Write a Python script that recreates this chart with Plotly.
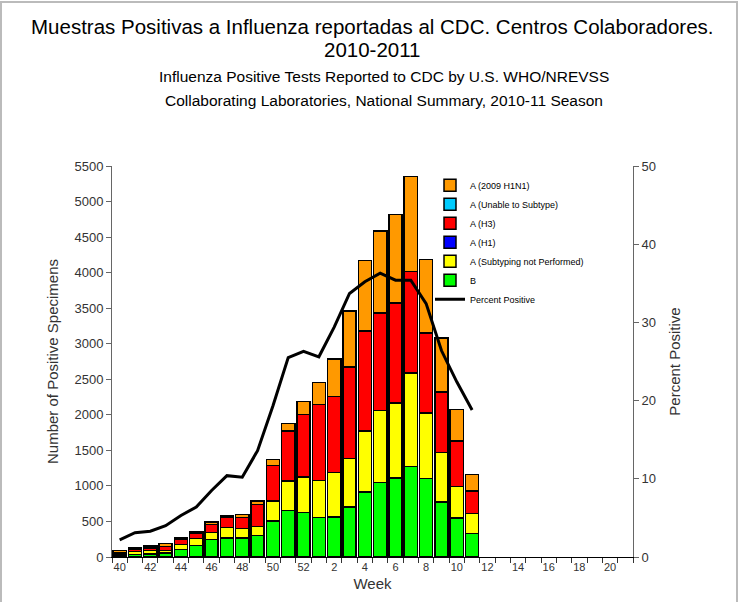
import plotly.graph_objects as go

weeks = [40, 41, 42, 43, 44, 45, 46, 47, 48, 49, 50, 51, 52,
         1, 2, 3, 4, 5, 6, 7, 8, 9, 10, 11, 12, 13, 14, 15, 16, 17, 18, 19, 20, 21]

b_vals = [25, 35, 45, 57, 108, 165, 245, 267, 267, 305, 505, 652, 624,
          554, 563, 704, 915, 1046, 1111, 1276, 1103, 774, 549, 329]
np_vals = [20, 45, 45, 37, 70, 98, 98, 146, 133, 127, 283, 417, 501,
           525, 624, 682, 856, 1017, 1055, 1312, 923, 694, 446, 281]
h1_vals = [0] * 24
h3_vals = [20, 25, 40, 56, 70, 75, 112, 150, 154, 305, 502, 704, 882,
           1069, 1073, 1287, 1408, 1369, 1407, 1431, 1125, 853, 637, 319]
unable_vals = [0] * 24
h1n1_vals = [29, 22, 25, 38, 19, 14, 37, 14, 46, 51, 80, 107, 179,
             305, 525, 787, 994, 1154, 1243, 1336, 1032, 760, 441, 234]
pct_pos = [2.2, 3.1, 3.3, 4.0, 5.3, 6.4, 8.5, 10.4, 10.2, 13.6, 19.3, 25.5, 26.3,
           25.6, 29.4, 33.7, 35.2, 36.3, 35.4, 35.4, 32.4, 26.4, 22.4, 18.8]

title_lines = ["Muestras Positivas a Influenza reportadas al CDC. Centros Colaboradores.",
               "2010-2011"]
subtitle_lines = ["Influenza Positive Tests Reported to CDC by U.S. WHO/NREVSS",
                  "Collaborating Laboratories, National Summary, 2010-11 Season"]

idx = list(range(len(weeks)))
data_idx = idx[:len(b_vals)]

series = [
    ("B", b_vals, "#00FF00", 6),
    ("A (Subtyping not Performed)", np_vals, "#FFFF00", 5),
    ("A (H1)", h1_vals, "#0000FF", 4),
    ("A (H3)", h3_vals, "#FF0000", 3),
    ("A (Unable to Subtype)", unable_vals, "#00CCFF", 2),
    ("A (2009 H1N1)", h1n1_vals, "#FF9900", 1),
]

fig = go.Figure()
for name, vals, color, rank in series:
    fig.add_trace(go.Bar(
        x=data_idx, y=vals, name=name, legendrank=rank,
        marker=dict(color=color, line=dict(color="black", width=1.5)),
    ))

fig.add_trace(go.Scatter(
    x=data_idx, y=pct_pos, name="Percent Positive", yaxis="y2", legendrank=7,
    mode="lines", line=dict(color="black", width=3),
))

font_family = "Liberation Sans, Arial, sans-serif"
PL, PT, PW, PH = 112, 166, 521, 391  # plot area in pixels


def ann(text, cx, cy, size):
    return dict(text=text, xref="paper", yref="paper",
                x=(cx - PL) / PW, y=1 + (PT - cy) / PH,
                xanchor="center", yanchor="middle", showarrow=False,
                font=dict(size=size, color="#000000", family=font_family))


fig.update_layout(
    width=744, height=602,
    barmode="stack", bargap=0.14,
    plot_bgcolor="white", paper_bgcolor="white",
    margin=dict(l=PL, r=744 - PL - PW, t=PT, b=602 - PT - PH),
    font=dict(family=font_family, color="#333333"),
    showlegend=True,
    legend=dict(
        x=(430 - PL) / PW, y=0.988, xanchor="left", yanchor="top",
        traceorder="normal", font=dict(size=9, color="#000000"),
        bgcolor="rgba(0,0,0,0)", itemwidth=30,
    ),
    xaxis=dict(
        range=[-0.5, len(weeks) - 0.5],
        tickmode="array",
        tickvals=idx[::2], ticktext=[str(w) for w in weeks[::2]],
        ticks="", tickfont=dict(size=11, color="#333333"),
        showline=True, linecolor="#000000", linewidth=1,
        showgrid=False, zeroline=False,
        minor=dict(tickmode="linear", tick0=-0.5, dtick=1, ticks="outside",
                   ticklen=5, tickcolor="#333333", showgrid=False),
        title=dict(text="Week", font=dict(size=15, color="#333333"), standoff=6),
    ),
    yaxis=dict(
        range=[0, 5500], dtick=500, ticks="outside", ticklen=5,
        tickcolor="#666666", showline=True, linecolor="#666666", linewidth=1,
        showgrid=False, zeroline=False,
        tickfont=dict(size=13, color="#333333"),
        title=dict(text="Number of Positive Specimens",
                   font=dict(size=15, color="#333333"), standoff=12),
    ),
    yaxis2=dict(
        range=[0, 50], dtick=10, overlaying="y", side="right",
        ticks="outside", ticklen=5, tickcolor="#666666",
        showline=True, linecolor="#666666", linewidth=1,
        showgrid=False, zeroline=False,
        tickfont=dict(size=13, color="#333333"),
        title=dict(text="Percent Positive", font=dict(size=15, color="#333333"),
                   standoff=14),
    ),
    annotations=[
        ann(title_lines[0], 372, 26, 20.5),
        ann(title_lines[1], 372, 49, 20.5),
        ann(subtitle_lines[0], 384, 77, 15.5),
        ann(subtitle_lines[1], 384, 101, 15.5),
    ],
    shapes=[
        dict(type="rect", xref="paper", yref="paper",
             x0=(1 - PL) / PW, x1=(737 - PL) / PW,
             y0=(PT + PH - 603) / PH, y1=1 + (PT - 2) / PH,
             line=dict(color="#BBBBBB", width=2), fillcolor="rgba(0,0,0,0)", layer="below"),
    ],
)

fig.write_html("out.html", config={"displayModeBar": False},
               post_script="document.body.style.margin='0';")
